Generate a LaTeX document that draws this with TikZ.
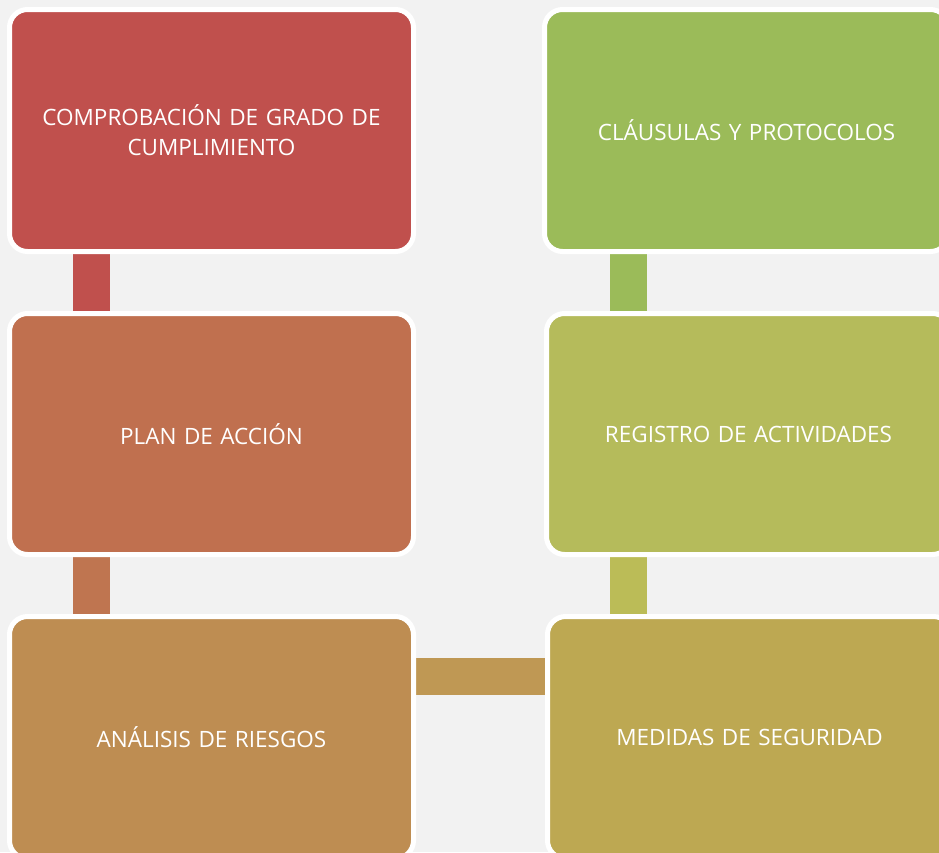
\documentclass[tikz,border=0pt]{standalone}
\usepackage{fontspec}
\setmainfont{Open Sans}
\usetikzlibrary{backgrounds}
\definecolor{bg}{HTML}{F2F2F2}
\definecolor{cA}{HTML}{C0504D}
\definecolor{cB}{HTML}{C0704F}
\definecolor{cC}{HTML}{BE8D52}
\definecolor{cD}{HTML}{BDA852}
\definecolor{cE}{HTML}{B5BB5B}
\definecolor{cF}{HTML}{9BBB59}
\definecolor{lAB}{HTML}{C0504D}
\definecolor{lBC}{HTML}{BF7550}
\definecolor{lCD}{HTML}{BF9854}
\definecolor{lDE}{HTML}{BBBC57}
\definecolor{lEF}{HTML}{9BBB59}
\tikzset{
  box/.style={draw=white, line width=5pt, rounded corners=18pt, minimum width=404pt,
    minimum height=242pt, text width=380pt, align=center, text=white,
    font=\fontsize{22.5}{30}\selectfont, inner sep=0pt},
  link/.style={line width=37pt, line cap=butt}
}
\begin{document}
\begin{tikzpicture}[x=1pt,y=-1pt]
\useasboundingbox (0,0) rectangle (939,852);
\node[box, fill=cA] (a) at (211.5,130.5) {COMPROBACIÓN DE GRADO DE\\CUMPLIMIENTO};
\node[box, fill=cB, minimum height=241pt] (b) at (211.5,434) {PLAN DE ACCIÓN};
\node[box, fill=cC] (c) at (211.5,737.5) {ANÁLISIS DE RIESGOS};
\node[box, fill=cD] (d) at (749.5,737.5) {MEDIDAS DE SEGURIDAD};
\node[box, fill=cE, minimum height=241pt] (e) at (748.5,434) {REGISTRO DE ACTIVIDADES};
\node[box, fill=cF] (f) at (746.5,130.5) {CLÁUSULAS Y PROTOCOLOS};
\begin{pgfonlayer}{background}
\fill[bg] (0,0) rectangle (939,852);
\draw[link, lAB] (a.south -| 91.5,0) -- (b.north -| 91.5,0);
\draw[link, lBC] (b.south -| 91.5,0) -- (c.north -| 91.5,0);
\draw[link, lCD] (c.east |- 0,676.5) -- (d.west |- 0,676.5);
\draw[link, lDE] (d.north -| 628.5,0) -- (e.south -| 628.5,0);
\draw[link, lEF] (e.north -| 628.5,0) -- (f.south -| 628.5,0);
\end{pgfonlayer}
\end{tikzpicture}
\end{document}
